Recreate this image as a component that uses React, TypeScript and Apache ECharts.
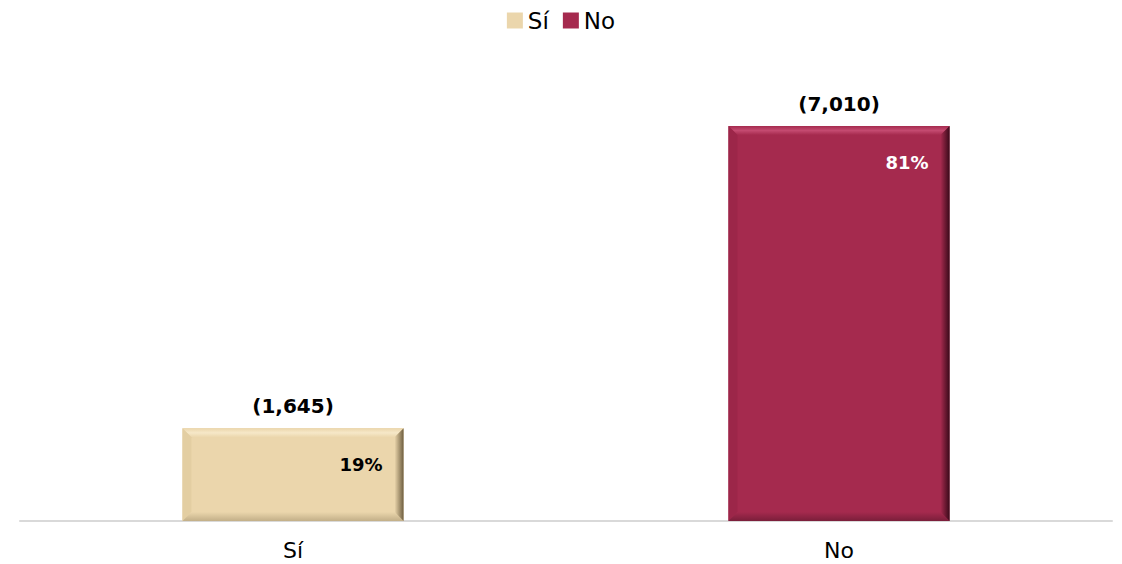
import React, { useEffect, useRef } from "react";
import * as echarts from "echarts";

const categories = ["Sí", "No"];
const seriesNames = ["Sí", "No"];
const siValues = [1645];
const noValues = [7010];

const FONT = "'DejaVu Sans', sans-serif";

type Palette = { base: string; light: string; left: string; right: string; bottom: string; pct: string };

const palettes: Palette[] = [
  { base: "#EBD6AC", light: "#F6E8C8", left: "#E3CEA2", right: "#6E5E40", bottom: "#C2AF88", pct: "#000000" },
  { base: "#A52A4E", light: "#C44A70", left: "#9C2649", right: "#3A0A1A", bottom: "#7A1E3A", pct: "#FFFFFF" },
];

const total = siValues.reduce((a, b) => a + b, 0) + noValues.reduce((a, b) => a + b, 0);
const fmt = (v: number) => v.toLocaleString("en-US");

function makeRender(p: Palette) {
  return (params: any, api: any) => {
    const xi = api.value(0);
    const v = api.value(1);
    const top = api.coord([xi, v]);
    const base = api.coord([xi, 0]);
    const w = api.size([1, 0])[0] * 0.405;
    const x0 = top[0] - w / 2;
    const x1 = top[0] + w / 2;
    const y0 = top[1];
    const y1 = base[1];
    const b = 9;
    const pct = Math.round((v / total) * 100) + "%";
    return {
      type: "group",
      children: [
        { type: "rect", shape: { x: x0, y: y0, width: w, height: y1 - y0 }, style: { fill: p.base } },
        {
          type: "polygon",
          shape: { points: [[x0, y0], [x1, y0], [x1 - b, y0 + b], [x0 + b, y0 + b]] },
          style: {
            fill: new echarts.graphic.LinearGradient(0, 0, 0, 1, [
              { offset: 0, color: p.base },
              { offset: 0.5, color: p.light },
              { offset: 1, color: p.base },
            ]),
          },
        },
        {
          type: "polygon",
          shape: { points: [[x0, y0], [x0 + b, y0 + b], [x0 + b, y1 - b], [x0, y1]] },
          style: { fill: p.left },
        },
        {
          type: "polygon",
          shape: { points: [[x0, y1], [x0 + b, y1 - b], [x1 - b, y1 - b], [x1, y1]] },
          style: {
            fill: new echarts.graphic.LinearGradient(0, 0, 0, 1, [
              { offset: 0, color: p.base },
              { offset: 1, color: p.bottom },
            ]),
          },
        },
        {
          type: "polygon",
          shape: { points: [[x1, y0], [x1, y1], [x1 - b, y1 - b], [x1 - b, y0 + b]] },
          style: {
            fill: new echarts.graphic.LinearGradient(0, 0, 1, 0, [
              { offset: 0, color: p.base },
              { offset: 1, color: p.right },
            ]),
          },
        },
        {
          type: "text",
          x: top[0],
          y: y0 - 12,
          style: {
            text: "(" + fmt(v) + ")",
            fontFamily: FONT,
            fontWeight: "bold",
            fontSize: 20,
            fill: "#000000",
            textAlign: "center",
            textVerticalAlign: "bottom",
          },
        },
        {
          type: "text",
          x: x1 - 21,
          y: y0 + 36,
          style: {
            text: pct,
            fontFamily: FONT,
            fontWeight: "bold",
            fontSize: 18,
            fill: p.pct,
            textAlign: "right",
            textVerticalAlign: "middle",
          },
        },
      ],
    };
  };
}

export default function App() {
  const ref = useRef<HTMLDivElement>(null);
  useEffect(() => {
    if (!ref.current) return;
    const chart = echarts.init(ref.current, undefined, { renderer: "svg" });
    chart.setOption({
      animation: false,
      backgroundColor: "#FFFFFF",
      legend: {
        top: 4,
        left: "center",
        icon: "rect",
        itemWidth: 16,
        itemHeight: 16,
        itemGap: 14,
        itemTextGap: 4,
        textStyle: { fontFamily: FONT, fontSize: 23, color: "#000000" },
        data: seriesNames,
      },
      grid: { left: 20, right: 10, top: 126, bottom: 43, containLabel: false },
      xAxis: {
        type: "category",
        data: categories,
        axisLine: { lineStyle: { color: "#D9D9D9", width: 2 } },
        axisTick: { show: false },
        axisLabel: { fontFamily: FONT, fontSize: 22, color: "#000000", margin: 18 },
      },
      yAxis: {
        type: "value",
        min: 0,
        max: 7010,
        show: false,
        splitLine: { show: false },
      },
      series: [
        {
          name: seriesNames[0],
          type: "custom",
          itemStyle: { color: palettes[0].base },
          encode: { x: 0, y: 1 },
          data: siValues.map((v) => [0, v]),
          renderItem: makeRender(palettes[0]),
        },
        {
          name: seriesNames[1],
          type: "custom",
          itemStyle: { color: palettes[1].base },
          encode: { x: 0, y: 1 },
          data: noValues.map((v) => [1, v]),
          renderItem: makeRender(palettes[1]),
        },
      ],
    });
    return () => chart.dispose();
  }, []);
  return (
    <div
      ref={ref}
      style={{ position: "fixed", left: 0, top: 0, width: 1122, height: 564 }}
    />
  );
}
